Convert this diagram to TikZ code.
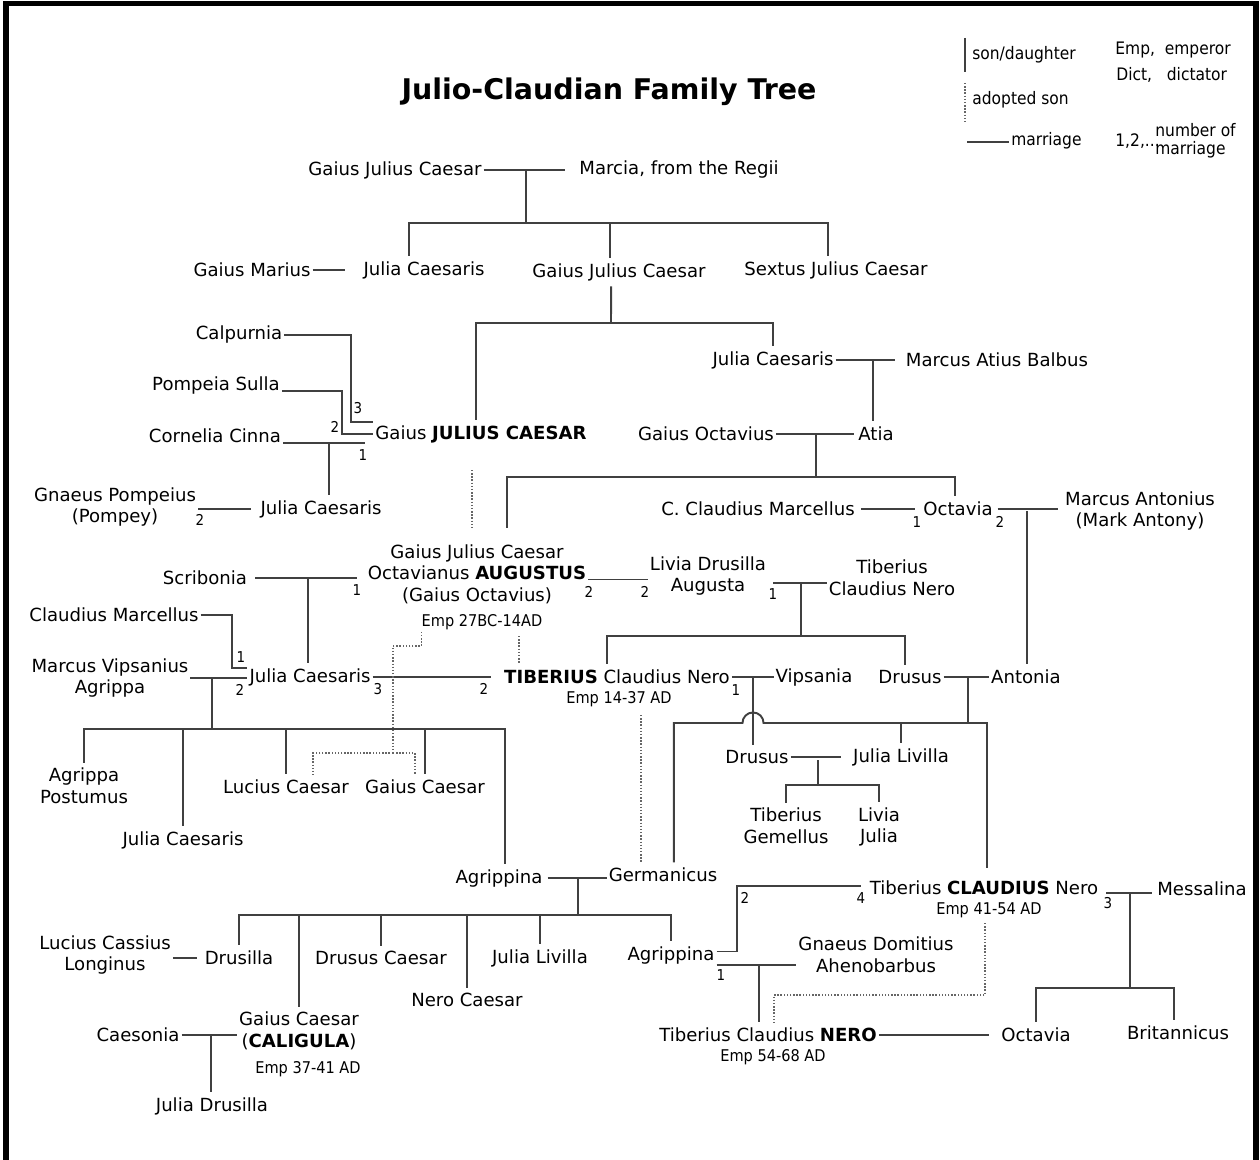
\documentclass[tikz,border=0pt]{standalone}
\usepackage{fontspec}
\setmainfont{DejaVu Sans}
\newfontfamily\condfont[FakeStretch=0.9]{DejaVu Sans}
\usetikzlibrary{calc}

\tikzset{
	nm/.style={font=\fontsize{10.3}{12.3}\selectfont, inner xsep=1pt, inner ysep=3pt, align=center},
	emp/.style={font=\condfont\fontsize{9.2}{11}\selectfont, inner sep=1pt},
	num/.style={font=\condfont\fontsize{8.5}{10}\selectfont, inner sep=0pt},
	leg/.style={font=\condfont\fontsize{9.8}{11}\selectfont, inner sep=0pt},
	title/.style={font=\fontsize{16.2}{19}\selectfont\bfseries},
	lnk/.style={line width=1.1pt, draw=black!75},
	adopt/.style={line width=0.8pt, draw=black!60, densely dotted},
}

\begin{document}
\begin{tikzpicture}[x=0.02cm, y=-0.02cm]
	\useasboundingbox (0,0) rectangle (1260,1159);
	
	% frame
	\draw[line width=3.4pt] (6,1175) -- (6,3.5) -- (1256,3.5) -- (1256,1175);
	
	\node[title] (title) at (609,92) {Julio-Claudian Family Tree};
	
	% legend
	\coordinate (lgA) at (965,38);
	\coordinate (lgB) at (965,72);
	\coordinate (lgC) at (965,83);
	\coordinate (lgD) at (965,122);
	\coordinate (lgE) at (967,142);
	\coordinate (lgF) at (1009,142);
	\draw[lnk] (lgA) -- (lgB);
	\draw[adopt] (lgC) -- (lgD);
	\draw[lnk] (lgE) -- (lgF);
	\node[leg, anchor=west] (lgson) at (972,55) {son/daughter};
	\node[leg, anchor=west] (lgadop) at (972,100) {adopted son};
	\node[leg, anchor=west] (lgmarr) at (1011,141) {marriage};
	\node[leg, anchor=west] (lgemp) at (1115,50) {Emp,\ \ emperor};
	\node[leg, anchor=west] (lgdict) at (1116,75) {Dict,\ \ \ dictator};
	\node[leg, anchor=west] (lgnum) at (1115,141) {1,2,...};
	\node[leg, anchor=west, align=left, font=\condfont\fontsize{9.8}{10.2}\selectfont] (lgnumtxt) at (1155,141) {number of\\marriage};
	
	% people
	\node[nm] (gjc1) at (395,170) {Gaius Julius Caesar};
	\node[nm] (marcia) at (679,170) {Marcia, from the Regii};
	\node[nm] (marius) at (252,270) {Gaius Marius};
	\node[nm] (juliaA) at (424,270) {Julia Caesaris};
	\node[nm] (gjc2) at (619,272) {Gaius Julius Caesar};
	\node[nm] (sextus) at (836,270) {Sextus Julius Caesar};
	\node[nm] (calpurnia) at (239,335) {Calpurnia};
	\node[nm] (pompeia) at (216,386) {Pompeia Sulla};
	\node[nm] (cornelia) at (215,436) {Cornelia Cinna};
	\node[nm] (caesar) at (481,434) {Gaius \textbf{JULIUS CAESAR}};
	\node[nm] (juliaB) at (773,360) {Julia Caesaris};
	\node[nm] (balbus) at (997,360) {Marcus Atius Balbus};
	\node[nm] (octavius) at (706,434) {Gaius Octavius};
	\node[nm] (atia) at (876,434) {Atia};
	\node[nm] (pompey) at (115,507) {Gnaeus Pompeius\\(Pompey)};
	\node[nm] (juliaC) at (321,509) {Julia Caesaris};
	\node[nm] (marcellusC) at (758,509) {C. Claudius Marcellus};
	\node[nm] (octavia) at (958,509) {Octavia};
	\node[nm] (antony) at (1140,511) {Marcus Antonius\\(Mark Antony)};
	\node[nm] (augustus) at (477,574) {Gaius Julius Caesar\\Octavianus \textbf{AUGUSTUS}\\(Gaius Octavius)};
	\node[emp] (augemp) at (482,622) {Emp 27BC-14AD};
	\node[nm] (livia) at (708,576) {Livia Drusilla\\Augusta};
	\node[nm] (tcn) at (892,578) {Tiberius\\Claudius Nero};
	\node[nm] (scribonia) at (205,578) {Scribonia};
	\node[nm] (marcellusCl) at (114,615) {Claudius Marcellus};
	\node[nm] (agrippa) at (110,678) {Marcus Vipsanius\\Agrippa};
	\node[nm] (juliaD) at (310,677) {Julia Caesaris};
	\node[nm] (tiberius) at (617,677) {\textbf{TIBERIUS} Claudius Nero};
	\node[emp] (tibemp) at (619,699) {Emp 14-37 AD};
	\node[nm] (vipsania) at (814,677) {Vipsania};
	\node[nm] (drususA) at (910,677) {Drusus};
	\node[nm] (antonia) at (1026,677) {Antonia};
	\node[nm] (postumus) at (84,786) {Agrippa\\Postumus};
	\node[nm] (juliaE) at (183,840) {Julia Caesaris};
	\node[nm] (lucius) at (286,787) {Lucius Caesar};
	\node[nm] (gaiusC) at (425,787) {Gaius Caesar};
	\node[nm] (drususB) at (757,757) {Drusus};
	\node[nm] (livillaA) at (901,757) {Julia Livilla};
	\node[nm] (gemellus) at (786,826) {Tiberius\\Gemellus};
	\node[nm] (liviaJ) at (879,827) {Livia\\Julia};
	\node[nm] (agrippinaA) at (499,878) {Agrippina};
	\node[nm] (germanicus) at (663,875) {Germanicus};
	\node[nm] (claudius) at (984,888) {Tiberius \textbf{CLAUDIUS} Nero};
	\node[emp] (claemp) at (989,910) {Emp 41-54 AD};
	\node[nm] (messalina) at (1202,889) {Messalina};
	\node[nm] (longinus) at (105,955) {Lucius Cassius\\Longinus};
	\node[nm] (drusilla) at (239,958) {Drusilla};
	\node[nm] (drususC) at (381,958) {Drusus Caesar};
	\node[nm] (neroC) at (467,1000) {Nero Caesar};
	\node[nm] (livillaB) at (540,958) {Julia Livilla};
	\node[nm] (agrippinaB) at (671,955) {Agrippina};
	\node[nm] (ahenobarbus) at (876,955) {Gnaeus Domitius\\Ahenobarbus};
	\node[nm] (caligula) at (299,1031) {Gaius Caesar\\(\textbf{CALIGULA})};
	\node[emp] (calemp) at (308,1069) {Emp 37-41 AD};
	\node[nm] (caesonia) at (138,1035) {Caesonia};
	\node[nm] (juliaDr) at (212,1106) {Julia Drusilla};
	\node[nm] (nero) at (768,1035) {Tiberius Claudius \textbf{NERO}};
	\node[emp] (neroemp) at (773,1057) {Emp 54-68 AD};
	\node[nm] (octaviaB) at (1036,1035) {Octavia};
	\node[nm] (britannicus) at (1178,1033) {Britannicus};
	
	% number of marriage
	\node[num] (nCal) at (358,408) {3};
	\node[num] (nPom) at (335,427) {2};
	\node[num] (nCor) at (363,455) {1};
	\node[num] (nPy) at (200,520) {2};
	\node[num] (nOc1) at (917,522) {1};
	\node[num] (nOc2) at (1000,522) {2};
	\node[num] (nScr) at (357,590) {1};
	\node[num] (nAu2) at (589,592) {2};
	\node[num] (nLi2) at (645,592) {2};
	\node[num] (nLi1) at (773,594) {1};
	\node[num] (nMc1) at (241,657) {1};
	\node[num] (nAg2) at (240,690) {2};
	\node[num] (nJu3) at (378,689) {3};
	\node[num] (nTi2) at (484,689) {2};
	\node[num] (nVi1) at (736,690) {1};
	\node[num] (nAp2) at (745,898) {2};
	\node[num] (nCl4) at (861,898) {4};
	\node[num] (nAh1) at (721,975) {1};
	\node[num] (nMe3) at (1108,903) {3};
	
	% Gaius Julius Caesar & Marcia
	\coordinate (f1) at (526,170);
	\coordinate (f1b) at (526,223);
	\coordinate (c1) at ([xshift=-5.1pt]gjc2.north);
	\draw[lnk, shorten >=6.8pt] (gjc1.east) -- (gjc1.east -| marcia.west);
	\draw[lnk] (f1) -- (f1b);
	\draw[lnk] (f1b) -| ([xshift=-8.5pt]juliaA.north);
	\draw[lnk] (f1b) -| ([xshift=-4.5pt]sextus.north);
	\draw[lnk] (c1 |- f1b) -- (c1);
	\draw[lnk, shorten >=9.6pt] (marius.east) -- (marius.east -| juliaA.west);
	
	% Gaius Julius Caesar, father
	\coordinate (f2b) at (611,323);
	\draw[lnk] ([xshift=-4.5pt]gjc2.south) -- (f2b);
	\draw[lnk] (f2b) -| ([xshift=-2.8pt]caesar.north);
	\draw[lnk] (f2b) -| (juliaB.north);
	
	% Julia Caesaris & Marcus Atius Balbus
	\coordinate (f3) at (873,361);
	\draw[lnk, shorten >=5pt] (juliaB.east) -- (juliaB.east -| balbus.west);
	\draw[lnk] (f3) -- (f3 |- atia.north);
	
	% Gaius Octavius & Atia
	\coordinate (f4) at (816,434);
	\coordinate (f4b) at (816,477);
	\draw[lnk, shorten >=1.5pt] (octavius.east) -- (octavius.east -| atia.west);
	\draw[lnk] (f4) -- (f4b);
	\draw[lnk, shorten >=6pt] (f4b) -| ([xshift=17pt]augustus.north);
	\draw[lnk] (f4b) -| ([xshift=-1.7pt]octavia.north);
	
	% wives of Julius Caesar
	\coordinate (cal) at (351,380);
	\coordinate (pom) at (342,410);
	\coordinate (m6) at ([yshift=7pt]caesar.west);
	\coordinate (m7) at ([yshift=-3pt]pompeia.east);
	\coordinate (m5) at ([yshift=-4pt]cornelia.east);
	\coordinate (f5) at (329,443);
	\draw[lnk] (calpurnia.east) -| (cal) |- (m6);
	\draw[lnk] (m7) -| (pom) |- (caesar.west);
	\draw[lnk, shorten >=5pt] (m5) -- (m5 -| caesar.west);
	\draw[lnk] (f5) -- (f5 |- juliaC.north);
	\draw[lnk, shorten >=4pt] (pompey.east |- juliaC.west) -- (juliaC.west);
	
	% Octavia, Marcellus & Antony
	\coordinate (f6) at (1027,511);
	\draw[lnk, shorten <=2.3pt, shorten >=3.4pt] (marcellusC.east) -- (marcellusC.east -| octavia.west);
	\draw[lnk, shorten <=1.7pt, shorten >=3pt] (octavia.east) -- (octavia.east -| antony.west);
	\draw[lnk] (f6) -- (f6 |- antonia.north);
	
	% Augustus, Scribonia & Livia
	\coordinate (m8) at ([yshift=-2pt]livia.west);
	\coordinate (m9) at ([yshift=-3pt]tcn.west);
	\coordinate (f7) at (801,583);
	\coordinate (f7b) at (801,636);
	\coordinate (f8) at (308,579);
	\draw[lnk] (m8 -| augustus.east) -- (m8);
	\draw[lnk, shorten <=3pt] (m9 -| livia.east) -- (m9);
	\draw[lnk] (f7) -- (f7b);
	\draw[lnk] (f7b) -| ([xshift=-5.7pt]tiberius.north);
	\draw[lnk] (f7b) -| ([xshift=-2.8pt]drususA.north);
	\draw[lnk, shorten <=3.4pt, shorten >=5pt] (scribonia.east) -- (scribonia.east -| augustus.west);
	\draw[lnk] (f8) -- (f8 |- juliaD.north);
	
	% Julia, Marcellus, Agrippa & Tiberius
	\coordinate (mcl) at (232,640);
	\coordinate (m12) at ([yshift=5pt]juliaD.west);
	\coordinate (f9) at (212,679);
	\coordinate (f9b) at (212,729);
	\draw[lnk] (marcellusCl.east) -| (mcl) |- (m12);
	\draw[lnk] (agrippa.east) -- (agrippa.east -| juliaD.west);
	\draw[lnk] (f9) -- (f9b);
	\draw[lnk] (f9b) -| (postumus.north);
	\draw[lnk] (f9b) -| ([xshift=3.4pt]agrippinaA.north);
	\foreach \c in {juliaE, lucius, gaiusC}
		\draw[lnk] (f9b -| \c.north) -- (\c.north);
	\draw[lnk, shorten >=6.2pt] (juliaD.east) -- (juliaD.east -| tiberius.west);
	
	% Tiberius & Vipsania
	\coordinate (f10) at (753,678);
	\draw[lnk] (tiberius.east) -- (tiberius.east -| vipsania.west);
	\draw[lnk] (f10) -- (f10 |- drususB.north);
	
	% Drusus & Antonia
	\coordinate (f11) at (968,678);
	\coordinate (f11b) at (968,723);
	\coordinate (hop) at (753,723);
	\draw[lnk] (drususA.east) -- (drususA.east -| antonia.west);
	\draw[lnk] (f11) -- (f11b);
	\draw[lnk] (f11b) -- ([xshift=6pt]hop) arc[start angle=0, end angle=180, radius=6pt]
		-| ([xshift=6.2pt]germanicus.north);
	\draw[lnk, shorten >=4pt] (f11b) -| ([xshift=1.7pt]claudius.north);
	\draw[lnk] (f11b -| livillaA.north) -- (livillaA.north);
	
	% Drusus & Julia Livilla
	\coordinate (f12) at (818,760);
	\coordinate (f12b) at (818,785);
	\draw[lnk, shorten >=6pt] (drususB.east) -- (drususB.east -| livillaA.west);
	\draw[lnk] (f12) -- (f12b);
	\draw[lnk] (f12b) -| (gemellus.north);
	\draw[lnk] (f12b) -| (liviaJ.north);
	
	% Agrippina & Germanicus
	\coordinate (f13) at (578,878);
	\coordinate (f13b) at (578,915);
	\draw[lnk, shorten <=1.7pt] (agrippinaA.east) -- (agrippinaA.east -| germanicus.west);
	\draw[lnk] (f13) -- (f13b);
	\draw[lnk] (f13b) -| (drusilla.north);
	\draw[lnk] (f13b) -| (agrippinaB.north);
	\foreach \c in {caligula, drususC, neroC, livillaB}
		\draw[lnk] (f13b -| \c.north) -- (\c.north);
	\draw[lnk, shorten >=3pt] (longinus.east |- drusilla.west) -- (drusilla.west);
	
	% Caligula & Caesonia
	\coordinate (f14) at (211,1034);
	\draw[lnk] (caesonia.east) -- (caesonia.east -| caligula.west);
	\draw[lnk] (f14) -- (f14 |- juliaDr.north);
	
	% Agrippina, Claudius & Ahenobarbus
	\coordinate (ac) at (737,920);
	\coordinate (m21a) at ([yshift=2pt]agrippinaB.east);
	\coordinate (m21b) at ([yshift=1pt]claudius.west);
	\coordinate (m22) at ([yshift=-5.5pt]agrippinaB.east);
	\coordinate (f15) at (759,965);
	\draw[lnk, shorten >=4pt] (m21a) -| (ac) |- (m21b);
	\draw[lnk] (m22) -- (m22 -| ahenobarbus.west);
	\draw[lnk] (f15) -- (f15 |- nero.north);
	\draw[lnk, shorten >=5.7pt] (nero.east) -- (nero.east -| octaviaB.west);
	
	% Claudius & Messalina
	\coordinate (m24) at ([yshift=-3pt]claudius.east);
	\coordinate (f16) at (1130,893);
	\coordinate (f16b) at (1130,988);
	\draw[lnk, shorten <=3.4pt, shorten >=2pt] (m24) -- (m24 -| messalina.west);
	\draw[lnk] (f16) -- (f16b);
	\draw[lnk] (f16b) -| (octaviaB.north);
	\draw[lnk] (f16b) -| ([xshift=-2.3pt]britannicus.north);
	
	% adopted sons
	\coordinate (ad1) at (472,470);
	\coordinate (ad2) at (393,646);
	\coordinate (ad2b) at (393,753);
	\coordinate (ad3) at (519,636);
	\coordinate (ad4) at (641,715);
	\coordinate (ad5) at (985,923);
	\coordinate (ad5b) at (774,995);
	\draw[adopt, shorten >=6pt] (ad1) -- (ad1 |- augustus.north);
	\draw[adopt] ([xshift=1pt]augemp.south west) |- (ad2) -- (ad2b);
	\draw[adopt] (ad2b) -| ([xshift=15.3pt]lucius.north);
	\draw[adopt] (ad2b) -| ([xshift=-5.7pt]gaiusC.north);
	\draw[adopt] (ad3) -- (ad3 |- tiberius.north);
	\draw[adopt] (ad4) -- (ad4 |- germanicus.north);
	\draw[adopt] (ad5) |- (ad5b) -- (ad5b |- nero.north);
\end{tikzpicture}
\end{document}
